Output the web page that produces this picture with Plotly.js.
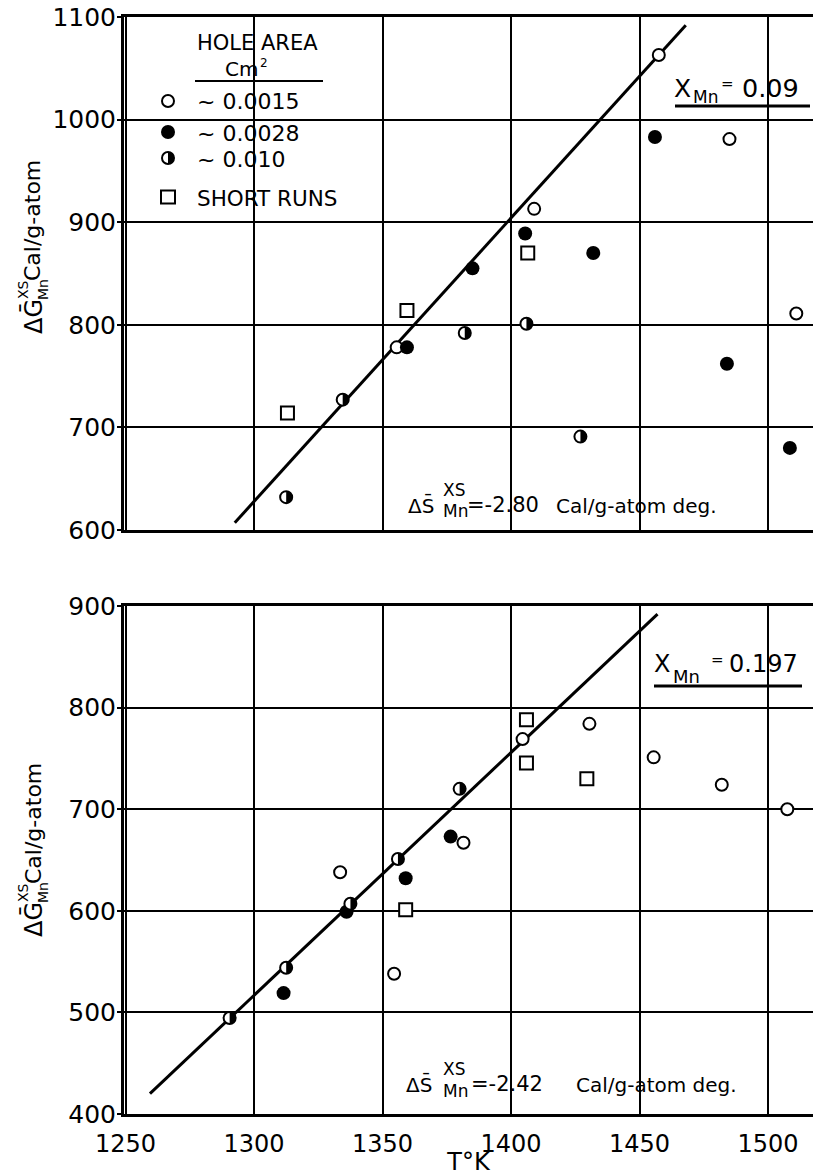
<!DOCTYPE html>
<html><head><meta charset="utf-8">
<script src="https://cdn.plot.ly/plotly-3.0.1.min.js"></script>
<style>html,body{margin:0;padding:0;background:#fff}</style>
</head><body><div id="chart" style="width:813px;height:1176px"></div>
<script>
// ---------- DATA ----------
// Top panel: X_Mn = 0.09
const topOpenX   = [1355.5, 1409, 1457.5, 1485, 1511];
const topOpenY   = [778, 913, 1063, 981, 811];
const topFilledX = [1359.5, 1385, 1405.5, 1432, 1456, 1484, 1508.5];
const topFilledY = [778, 855, 889, 870, 983, 762, 680];
const topHalfX   = [1312.5, 1334.5, 1382, 1406, 1427];
const topHalfY   = [632, 727, 792, 801, 691];
const topSquareX = [1313, 1359.5, 1406.5];
const topSquareY = [714, 814, 870];
const topLineX   = [1292.5, 1468];
const topLineY   = [607, 1092];

// Bottom panel: X_Mn = 0.197
const botOpenX   = [1333.5, 1354.5, 1381.5, 1404.5, 1430.5, 1455.5, 1482, 1507.5];
const botOpenY   = [638, 538, 667, 769, 784, 751, 724, 700];
const botFilledX = [1311.5, 1336, 1359, 1376.5];
const botFilledY = [519, 599, 632, 673];
const botHalfX   = [1290.5, 1312.5, 1337.5, 1356, 1380];
const botHalfY   = [494.5, 544, 607, 651, 720];
const botSquareX = [1359, 1406, 1406, 1429.5];
const botSquareY = [601, 745.5, 788, 730];
const botLineX   = [1259.5, 1457];
const botLineY   = [420, 892];

// Ticks / labels
const xTicks  = [1250, 1300, 1350, 1400, 1450, 1500];
const yTicksTop = [600, 700, 800, 900, 1000, 1100];
const yTicksBot = [400, 500, 600, 700, 800, 900];
const legendLabels = ['~ 0.0015', '~ 0.0028', '~ 0.010', 'SHORT RUNS'];

// ---------- LAYOUT HELPERS ----------
const F = 'DejaVu Sans';
const W = 813, H = 1176, ML = 124, MR = 0, MT = 17, MB = 62;
const PW = W - ML - MR, PH = H - MT - MB;
const px = p => (p - ML) / PW;
const py = p => (H - MB - p) / PH;

const openM   = {symbol:'circle', size:12, color:'#fff', line:{color:'#000', width:2}};
const filledM = {symbol:'circle', size:14, color:'#000', line:{color:'#000', width:0}};
const squareM = {symbol:'square', size:13, color:'#fff', line:{color:'#000', width:2}};
const lineS   = {color:'#000', width:3};

function halfPath(r){
  const k = 0.5523 * r;
  return `M0,${-r} C${k},${-r} ${r},${-k} ${r},0 C${r},${k} ${k},${r} 0,${r} Z`;
}

const traces = [
  // top panel
  {x:topLineX, y:topLineY, xaxis:'x2', yaxis:'y2', mode:'lines', line:lineS, name:'fit 0.09', showlegend:false},
  {x:topOpenX, y:topOpenY, xaxis:'x2', yaxis:'y2', mode:'markers', marker:openM, name:'~0.0015', showlegend:false},
  {x:topHalfX, y:topHalfY, xaxis:'x2', yaxis:'y2', mode:'markers', marker:openM, name:'~0.010', showlegend:false},
  {x:topFilledX, y:topFilledY, xaxis:'x2', yaxis:'y2', mode:'markers', marker:filledM, name:'~0.0028', showlegend:false},
  {x:topSquareX, y:topSquareY, xaxis:'x2', yaxis:'y2', mode:'markers', marker:squareM, name:'SHORT RUNS', showlegend:false},
  // bottom panel
  {x:botLineX, y:botLineY, xaxis:'x', yaxis:'y', mode:'lines', line:lineS, name:'fit 0.197', showlegend:false},
  {x:botFilledX, y:botFilledY, xaxis:'x', yaxis:'y', mode:'markers', marker:filledM, name:'~0.0028', showlegend:false},
  {x:botHalfX, y:botHalfY, xaxis:'x', yaxis:'y', mode:'markers', marker:openM, name:'~0.010', showlegend:false},
  {x:botOpenX, y:botOpenY, xaxis:'x', yaxis:'y', mode:'markers', marker:openM, name:'~0.0015', showlegend:false},
  {x:botSquareX, y:botSquareY, xaxis:'x', yaxis:'y', mode:'markers', marker:squareM, name:'SHORT RUNS', showlegend:false}
];

const shapes = [];
function whiteBox(x0, x1, y0, y1){
  shapes.push({type:'rect', xref:'paper', yref:'paper', x0:px(x0), x1:px(x1), y0:py(y1), y1:py(y0),
    fillcolor:'#fff', line:{width:0}, layer:'between'});
}
function hline(x0, x1, y, w){
  shapes.push({type:'line', xref:'paper', yref:'paper', x0:px(x0), x1:px(x1), y0:py(y), y1:py(y),
    line:{color:'#000', width:w}, layer:'above'});
}
whiteBox(143, 371, 28, 215);   // legend
whiteBox(665, 813, 57, 114);   // X_Mn top
whiteBox(395, 735, 477, 522);  // dS top
whiteBox(645, 813, 630, 704);  // X_Mn bottom
whiteBox(398, 745, 1058, 1103);// dS bottom
hline(195, 323, 81, 2);
hline(675, 810, 106, 3);
hline(654, 802, 686, 3);

// half-filled discs on data points
function halfDiscs(xs, ys, xr, yr){
  xs.forEach((x, i) => {
    shapes.push({type:'path', xref:xr, yref:yr, xsizemode:'pixel', ysizemode:'pixel',
      xanchor:x, yanchor:ys[i], path:halfPath(6), fillcolor:'#000', line:{width:0}, layer:'above'});
  });
}
halfDiscs(topHalfX, topHalfY, 'x2', 'y2');
halfDiscs(botHalfX, botHalfY, 'x', 'y');

// legend symbols
const legY = [101, 132, 158, 197];
const legX = 168;
function legCircle(y, r, fill){
  shapes.push({type:'circle', xref:'paper', yref:'paper', xsizemode:'pixel', ysizemode:'pixel',
    xanchor:px(legX), yanchor:py(y), x0:-r, x1:r, y0:-r, y1:r,
    fillcolor:fill, line:{color:'#000', width: fill === '#000' ? 0 : 2}, layer:'above'});
}
legCircle(legY[0], 6, '#fff');
legCircle(legY[1], 7, '#000');
legCircle(legY[2], 6, '#fff');
shapes.push({type:'path', xref:'paper', yref:'paper', xsizemode:'pixel', ysizemode:'pixel',
  xanchor:px(legX), yanchor:py(legY[2]), path:halfPath(6), fillcolor:'#000', line:{width:0}, layer:'above'});
shapes.push({type:'rect', xref:'paper', yref:'paper', xsizemode:'pixel', ysizemode:'pixel',
  xanchor:px(legX), yanchor:py(legY[3]), x0:-7, x1:7, y0:-6.5, y1:6.5,
  fillcolor:'#fff', line:{color:'#000', width:2}, layer:'above'});

// ---------- ANNOTATIONS ----------
const annotations = [];
function ann(text, x, y, size, opts){
  annotations.push(Object.assign({text, xref:'paper', yref:'paper', x:px(x), y:py(y),
    xanchor:'left', yanchor:'middle', showarrow:false, borderpad:0, borderwidth:0,
    font:{family:F, size, color:'#000'}}, opts || {}));
}
const rot = {textangle:-90, xanchor:'center'};

// legend text
ann('HOLE AREA', 257, 43, 21, {xanchor:'center'});
ann('Cm', 225, 69, 20);
ann('2', 260, 63, 12);
legendLabels.forEach((t, i) => ann(t, 197, legY[i] + 1, i === 3 ? 21.5 : 22));

// X_Mn labels
ann('X', 674, 88, 25);
ann('Mn', 693, 97, 17);
ann('=', 721, 84, 15);
ann('0.09', 742, 88, 25.5);
ann('X', 654, 664, 24);
ann('Mn', 673, 676, 18);
ann('=', 711, 660, 15);
ann('0.197', 729, 664, 24);

// entropy labels
ann('\u0394S\u0304', 408, 505, 20);
ann('XS', 443, 490, 17);
ann('Mn', 443, 511, 17);
ann('=-2.80', 467, 505, 21);
ann('Cal/g-atom deg.', 717, 506, 20, {xanchor:'right'});

ann('\u0394S\u0304', 406, 1084, 20);
ann('XS', 443, 1069, 17);
ann('Mn', 443, 1091, 17);
ann('=-2.42', 471, 1084, 21);
ann('Cal/g-atom deg.', 737, 1085, 20, {xanchor:'right'});

// y-axis titles (rotated composite)
function yTitle(dy){
  ann('Cal/g-atom', 33, 221 + dy, 22, rot);
  ann('XS', 23, 290 + dy, 14, rot);
  ann('Mn', 43, 290 + dy, 14, rot);
  ann('\u0394G\u0304', 33, 317 + dy, 24, rot);
}
yTitle(0);
yTitle(603);

// ---------- AXES ----------
const common = {showgrid:true, gridcolor:'#000', gridwidth:2, showline:true, linecolor:'#000', linewidth:3,
  zeroline:false, tickfont:{family:F, size:25, color:'#000'}, fixedrange:true};

const layout = {
  width:W, height:H, margin:{l:ML, r:MR, t:MT, b:MB}, paper_bgcolor:'#fff', plot_bgcolor:'#fff',
  font:{family:F, color:'#000'}, showlegend:false,
  xaxis: Object.assign({}, common, {domain:[0,1], anchor:'y', range:[1249.4, 1517.5], tickvals:xTicks,
    mirror:true, ticks:'', ticklabelstandoff:6, tickfont:{family:F, size:24, color:'#000'},
    title:{text:'T°K', font:{family:F, size:24, color:'#000'}, standoff:0}}),
  xaxis2: Object.assign({}, common, {domain:[0,1], anchor:'y2', matches:'x', range:[1249.4, 1517.5], tickvals:xTicks,
    mirror:true, ticks:'', showticklabels:false}),
  yaxis: Object.assign({}, common, {domain:[0, 0.4631], anchor:'x', range:[400, 900], tickvals:yTicksBot,
    ticks:'outside', ticklen:4, tickwidth:2, tickcolor:'#000', mirror:false, ticklabelstandoff:-4}),
  yaxis2: Object.assign({}, common, {domain:[0.5324, 1], anchor:'x2', range:[600, 1100], tickvals:yTicksTop,
    ticks:'outside', ticklen:4, tickwidth:2, tickcolor:'#000', mirror:false, ticklabelstandoff:-4}),
  shapes, annotations
};

Plotly.newPlot('chart', traces, layout, {displayModeBar:false, staticPlot:true});
</script>
</body></html>
